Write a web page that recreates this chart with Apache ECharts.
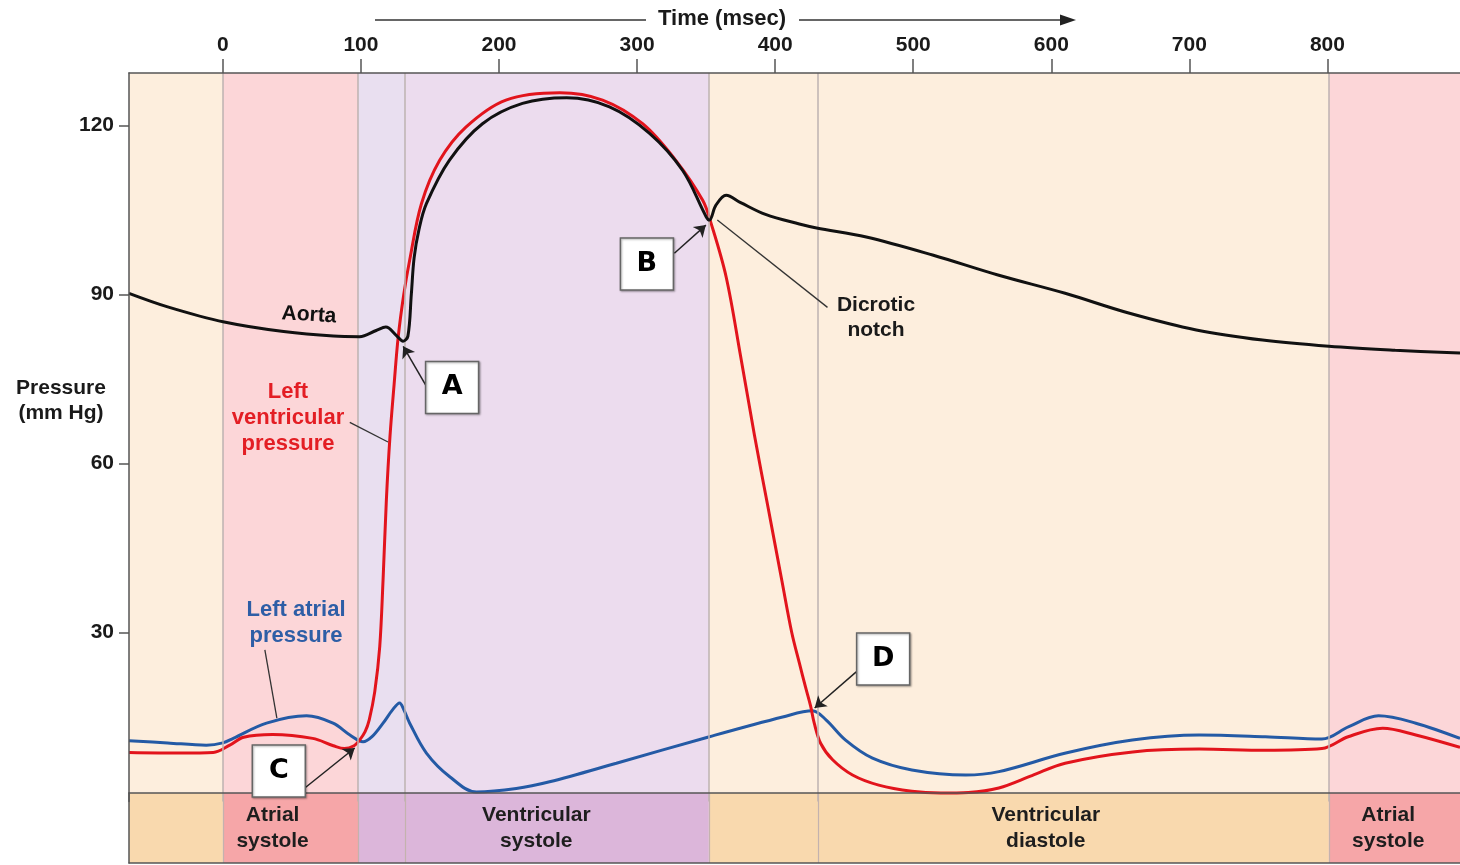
<!DOCTYPE html>
<html><head><meta charset="utf-8">
<script src="https://cdn.jsdelivr.net/npm/echarts@6/dist/echarts.min.js"></script>
<style>html,body{margin:0;padding:0;background:#fff}#c{width:1460px;height:865px}</style>
</head><body><div id="c"></div>
<script>
// ---------- DATA ----------
const timeTicks = [0, 100, 200, 300, 400, 500, 600, 700, 800];
const pressureTicks = [30, 60, 90, 120];
const aortaPressure = [[-68,90.2],[-40,87.8],[1,85.1],[44,83.4],[80,82.6],[99,82.5],[111,83.6],[118,84.2],[125.7,82.7],[130.5,81.7],[134,82.6],[136.5,90.1],[138.5,96.5],[142,101.5],[147.4,106.1],[164,113.8],[188,120.3],[217,123.9],[249,124.9],[280,123.3],[309,118.6],[333,112.0],[350,103.8],[352.4,103.2],[357,105.8],[364.5,107.6],[375,106.3],[393,104.2],[417.5,102.5],[430,101.8],[466,100.2],[514,97.0],[562,93.4],[610,90.2],[656,86.7],[705,83.7],[753,81.9],[801,80.8],[849,80.1],[896,79.6]];
const lvPressure = [[-68,8.7],[-30,8.6],[-7,8.7],[5,10.0],[15,11.4],[36,11.9],[65,11.2],[80,9.9],[88,9.4],[95,9.9],[99,10.9],[103,12.4],[106,14.5],[110,19.5],[113.6,27.5],[116,39.3],[118.4,53.5],[121,64.7],[124,74.0],[127,82.5],[131,90.0],[135.3,96.1],[143.8,106.1],[157,113.8],[176,119.7],[205,124.5],[244,125.8],[275,124.5],[304,120.3],[328,113.8],[347.5,106.7],[353.6,102.6],[364.5,93.1],[375,79.0],[385,65.0],[395,52.0],[405,39.0],[412,30.0],[417.5,24.6],[422,20.3],[425.6,17.0],[428.3,13.9],[433,10.3],[441.6,7.4],[456,4.7],[475,2.9],[499,1.8],[520,1.5],[540,1.6],[562,2.4],[586,4.6],[610,6.8],[659,8.8],[707,9.3],[755,9.1],[796,9.4],[815,11.5],[840,13.0],[864,11.8],[896,9.6]];
const laPressure = [[-68,10.8],[-40,10.4],[-12,10.0],[0,10.4],[7.5,11.2],[31.6,13.9],[60.6,15.2],[79.8,13.9],[92,11.8],[101.5,10.6],[108,11.5],[116,13.9],[123,16.3],[128,17.5],[131,16.3],[135.3,13.9],[147.4,8.6],[164.3,4.4],[183.6,1.7],[212.5,2.3],[236.6,3.5],[285,6.8],[352.4,11.5],[405.4,15.0],[427,16.1],[436.8,14.5],[451,10.9],[470.5,7.7],[499,5.6],[538,4.7],[562,5.3],[610.5,8.6],[658.7,10.9],[707,11.8],[755,11.5],[796,11.1],[815.5,13.3],[837,15.2],[864,13.9],[896,11.2]];
const phaseBounds = [-68, 0, 98, 132, 352, 431, 801, 896];
const phaseNames = ['Atrial\nsystole', 'Ventricular\nsystole', 'Ventricular\ndiastole', 'Atrial\nsystole'];
const markerLetters = ['A', 'B', 'C', 'D'];
const markerTargets = [[130.6, 80.8], [349.8, 102.3], [95.5, 9.5], [428.6, 16.6]];

// ---------- LAYOUT (data-space anchors for annotations) ----------
const phaseNameAt = [36, 227, 596, 844];
const markerBoxAt = [[166.0, 73.5], [307.1, 95.4], [40.5, 5.4], [478.2, 25.3]];
const markerArrowFrom = [[146.9, 73.9], [327.0, 97.3], [59.3, 2.4], [458.7, 23.0]];
const leaderLines = [
  [[358.1, 103.2], [437.9, 87.7]],
  [[91.9, 67.3], [119.6, 63.8]],
  [[30.4, 26.9], [39.1, 14.8]]
];

const bgColors = ['#fdeedd', '#fcd6d8', '#e9dff0', '#ecdcee', '#fdeedd', '#fdeedd', '#fcd6d8'];
const bandColors = ['#f9d9ae', '#f6a6a8', '#dcb6da', '#dcb6da', '#f9d9ae', '#f9d9ae', '#f6a6a8'];
const FONT = '"Liberation Sans", Arial, Helvetica, sans-serif';
const XMIN = -68, XMAX = 896;

const regions = [];
for (let i = 0; i < phaseBounds.length - 1; i++) regions.push([phaseBounds[i], phaseBounds[i + 1]]);
const seps = phaseBounds.slice(1, -1);

const chart = echarts.init(document.getElementById('c'), null, { renderer: 'canvas' });

const hiddenAxisParts = { axisTick: { show: false }, axisLabel: { show: false }, splitLine: { show: false } };

const option = {
  animation: false,
  backgroundColor: '#fff',
  grid: [
    { left: 129, right: -2, top: 73, bottom: 63.5 },
    { left: 129, right: -2, top: 793, bottom: 2 }
  ],
  xAxis: [
    {
      gridIndex: 0, type: 'value', position: 'top', min: XMIN, max: XMAX, z: 10,
      axisLine: { show: true, onZero: false, lineStyle: { color: '#555', width: 1.5 } },
      axisTick: { show: true, length: 14, customValues: timeTicks, lineStyle: { color: '#555', width: 1.5 } },
      axisLabel: { show: true, customValues: timeTicks, margin: 17, color: '#1a1a1a', fontSize: 21, fontWeight: 'bold', fontFamily: FONT },
      splitLine: { show: false }
    },
    Object.assign({
      gridIndex: 1, type: 'value', position: 'top', min: XMIN, max: XMAX, z: 10,
      axisLine: { show: true, onZero: false, lineStyle: { color: '#555', width: 1.5 } }
    }, hiddenAxisParts),
    Object.assign({
      gridIndex: 1, type: 'value', position: 'bottom', min: XMIN, max: XMAX, z: 10,
      axisLine: { show: true, onZero: false, lineStyle: { color: '#555', width: 1.5 } }
    }, hiddenAxisParts)
  ],
  yAxis: [
    {
      gridIndex: 0, type: 'value', min: 0, max: 129.3, z: 10,
      axisLine: { show: true, onZero: false, lineStyle: { color: '#555', width: 1.5 } },
      axisTick: { show: true, length: 10, customValues: pressureTicks, lineStyle: { color: '#555', width: 1.5 } },
      axisLabel: { show: true, customValues: pressureTicks, margin: 15, color: '#1a1a1a', fontSize: 21, fontWeight: 'bold', fontFamily: FONT },
      splitLine: { show: false }
    },
    Object.assign({
      gridIndex: 1, type: 'value', min: 0, max: 1, z: 10,
      axisLine: { show: true, onZero: false, lineStyle: { color: '#555', width: 1.5 } }
    }, hiddenAxisParts)
  ],
  series: [
    {
      name: 'bg', type: 'line', xAxisIndex: 0, yAxisIndex: 0, data: [], z: 1, silent: true,
      markArea: {
        silent: true,
        data: regions.map((r, i) => [{ xAxis: r[0], itemStyle: { color: bgColors[i], opacity: 1 } }, { xAxis: r[1] }])
      },
      markLine: {
        silent: true, symbol: 'none', label: { show: false },
        lineStyle: { color: '#bdb2b0', width: 1.5, type: 'solid' },
        data: seps.map(s => ({ xAxis: s }))
      }
    },
    {
      name: 'band', type: 'line', xAxisIndex: 1, yAxisIndex: 1, data: [], z: 1, silent: true,
      markArea: {
        silent: true,
        data: regions.map((r, i) => [{ xAxis: r[0], itemStyle: { color: bandColors[i], opacity: 1 } }, { xAxis: r[1] }])
      },
      markLine: {
        silent: true, symbol: 'none', label: { show: false },
        lineStyle: { color: '#c4b2ae', width: 1.2, type: 'solid' },
        data: seps.map(s => ({ xAxis: s }))
      }
    },
    {
      name: 'Left atrial pressure', type: 'line', xAxisIndex: 0, yAxisIndex: 0, data: laPressure,
      smooth: 0.35, showSymbol: false, z: 3, lineStyle: { color: '#245aa5', width: 3 }
    },
    {
      name: 'Left ventricular pressure', type: 'line', xAxisIndex: 0, yAxisIndex: 0, data: lvPressure,
      smooth: 0.35, showSymbol: false, z: 4, lineStyle: { color: '#e2141c', width: 3 }
    },
    {
      name: 'Aorta', type: 'line', xAxisIndex: 0, yAxisIndex: 0, data: aortaPressure,
      smooth: 0.35, showSymbol: false, z: 5, lineStyle: { color: '#111', width: 3 }
    },
    {
      name: 'arrows', type: 'lines', coordinateSystem: 'cartesian2d', xAxisIndex: 0, yAxisIndex: 0, z: 6,
      symbol: ['none', 'arrow'], symbolSize: 11,
      lineStyle: { color: '#222', width: 1.5, opacity: 1, curveness: 0 },
      data: markerTargets.map((t, i) => ({ coords: [markerArrowFrom[i], t] }))
    },
    {
      name: 'leaders', type: 'lines', coordinateSystem: 'cartesian2d', xAxisIndex: 0, yAxisIndex: 0, z: 6,
      symbol: ['none', 'none'],
      lineStyle: { color: '#333', width: 1.3, opacity: 1, curveness: 0 },
      data: leaderLines.map(c => ({ coords: c }))
    },
    {
      name: 'boxes', type: 'scatter', xAxisIndex: 0, yAxisIndex: 0, z: 20, clip: false,
      symbol: 'rect', symbolSize: [53, 52],
      itemStyle: { color: '#fff', opacity: 1, borderColor: '#666', borderWidth: 1.5, shadowColor: 'rgba(0,0,0,0.3)', shadowBlur: 2, shadowOffsetX: 1, shadowOffsetY: 1 },
      label: { show: true, position: 'inside', formatter: '{b}', color: '#000', fontSize: 27, fontWeight: 'bold', fontFamily: '"DejaVu Sans", ' + FONT },
      data: markerLetters.map((l, i) => ({ name: l, value: markerBoxAt[i] }))
    },
    {
      name: 'phases', type: 'scatter', xAxisIndex: 1, yAxisIndex: 1, z: 12, symbolSize: 0,
      itemStyle: { opacity: 1 },
      label: { show: true, position: 'inside', formatter: '{b}', color: '#1e1e1e', fontSize: 21, fontWeight: 'bold', lineHeight: 26, fontFamily: FONT },
      data: phaseNames.map((n, i) => ({ name: n, value: [phaseNameAt[i], 0.5] }))
    }
  ],
  graphic: [
    { type: 'line', z: 50, shape: { x1: 375, y1: 20, x2: 646, y2: 20 }, style: { stroke: '#333', lineWidth: 1.5 } },
    { type: 'text', z: 50, style: { text: 'Time (msec)', x: 722, y: 19, align: 'center', verticalAlign: 'middle', fill: '#1a1a1a', font: 'bold 22px ' + FONT } },
    { type: 'line', z: 50, shape: { x1: 799, y1: 20, x2: 1064, y2: 20 }, style: { stroke: '#333', lineWidth: 1.5 } },
    { type: 'polygon', z: 50, shape: { points: [[1060, 14.5], [1076, 20], [1060, 25.5]] }, style: { fill: '#222' } },
    { type: 'text', z: 50, style: { text: 'Pressure\n(mm Hg)', x: 61, y: 401, align: 'center', verticalAlign: 'middle', fill: '#1a1a1a', font: 'bold 21px ' + FONT, lineHeight: 25 } },
    { type: 'text', z: 50, rotation: -0.06, x: 309, y: 315, style: { text: 'Aorta', x: 0, y: 0, align: 'center', verticalAlign: 'middle', fill: '#111', font: 'bold 21px ' + FONT } },
    { type: 'text', z: 50, style: { text: 'Left\nventricular\npressure', x: 288, y: 418, align: 'center', verticalAlign: 'middle', fill: '#e31e24', font: 'bold 22px ' + FONT, lineHeight: 26 } },
    { type: 'text', z: 50, style: { text: 'Left atrial\npressure', x: 296, y: 623, align: 'center', verticalAlign: 'middle', fill: '#2e5ea6', font: 'bold 22px ' + FONT, lineHeight: 26 } },
    { type: 'text', z: 50, style: { text: 'Dicrotic\nnotch', x: 876, y: 318, align: 'center', verticalAlign: 'middle', fill: '#1a1a1a', font: 'bold 21px ' + FONT, lineHeight: 25 } }
  ]
};
chart.setOption(option);
</script>
</body></html>
